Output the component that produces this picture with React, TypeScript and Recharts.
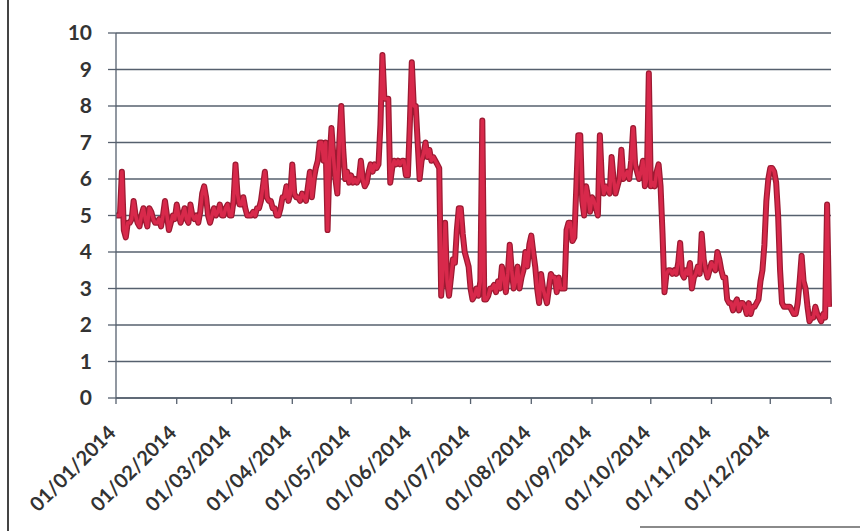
import React from "react";
import { LineChart, Line, XAxis, YAxis, CartesianGrid } from "recharts";

// Daily values, 2014, month by month
const jan = [5.0,5.0,5.0,6.2,4.6,4.4,4.8,4.8,4.9,5.4, 5.0,4.8,4.7,5.0,5.2,4.9,4.7,5.2,5.1,4.9, 4.8,4.8,4.9,4.7,5.0,5.4,5.0,4.6,4.8,5.0, 4.9];
const feb = [5.3,5.0,4.8,5.0,5.2,4.9,4.8,5.3,5.0,4.9, 5.0,4.8,5.1,5.6,5.8,5.5,5.0,4.8,5.0,5.2, 5.0,5.1,5.3,5.0,5.0,5.2,5.3,5.0];
const mar = [5.0,5.4,6.4,5.6,5.3,5.3,5.5,5.2,5.0,5.0, 5.0,5.1,5.0,5.2,5.2,5.4,5.8,6.2,5.5,5.4, 5.4,5.2,5.2,5.0,5.0,5.2,5.5,5.5,5.8,5.4, 5.6];
const apr = [6.4,5.6,5.5,5.5,5.4,5.6,5.5,5.4,5.8,6.2, 5.5,6.0,6.3,6.5,7.0,7.0,6.5,7.0,4.6,6.5, 7.4,6.6,6.0,5.6,7.0,8.0,6.8,6.0,6.2,5.9];
const may = [6.1,5.9,6.0,5.9,6.0,6.5,6.0,5.8,5.9,6.2, 6.4,6.2,6.4,6.3,6.4,7.5,9.4,8.2,8.2,8.2, 5.9,6.3,6.5,6.4,6.5,6.4,6.5,6.5,6.1,6.1, 7.5];
const jun = [9.2,8.0,8.0,7.0,6.0,6.5,6.7,7.0,6.6,6.8, 6.5,6.6,6.5,6.4,6.3,2.8,3.5,4.8,3.2,2.8, 3.3,3.8,3.7,4.6,5.2,5.2,4.5,4.0,3.8,3.6];
const jul = [3.0,2.7,2.8,3.0,2.8,3.2,7.6,2.7,2.7,2.8, 3.0,3.0,3.1,2.9,3.2,3.0,3.6,3.3,2.9,3.4, 4.2,3.5,3.0,3.2,3.6,3.0,3.3,3.5,4.0,3.6, 4.2];
const aug = [4.45,4.0,3.6,3.0,2.6,3.4,3.0,2.8,2.6,3.0, 3.4,3.3,3.3,2.9,3.3,3.0,3.0,3.0,4.6,4.8, 4.8,4.3,4.4,5.8,7.2,7.2,5.4,5.0,5.8,5.5, 5.1];
const sep = [5.5,5.4,5.2,5.0,7.2,6.0,5.6,5.8,5.7,5.6, 6.6,6.0,5.6,5.8,6.0,6.8,6.0,6.1,6.2,6.0, 6.5,7.4,6.4,6.2,6.0,6.2,6.5,5.8,6.0,8.9];
const oct = [5.8,5.9,5.8,6.2,6.4,5.8,4.5,2.9,3.4,3.5, 3.5,3.4,3.5,3.4,3.7,4.25,3.4,3.3,3.5,3.4, 3.7,3.0,3.3,3.4,3.6,3.4,4.5,3.8,3.5,3.3, 3.5];
const nov = [3.7,3.6,3.5,4.0,3.8,3.5,3.3,3.3,2.7,2.6, 2.6,2.4,2.6,2.7,2.4,2.6,2.6,2.5,2.3,2.6, 2.3,2.5,2.5,2.6,2.7,3.2,3.5,4.2,5.4,6.0];
const dec = [6.3,6.3,6.2,5.9,5.0,3.5,2.6,2.5,2.5,2.5, 2.5,2.4,2.3,2.3,2.6,3.2,3.9,3.2,3.0,2.5, 2.1,2.2,2.2,2.5,2.3,2.2,2.1,2.3,2.2,5.3, 2.5];

const months = [jan, feb, mar, apr, may, jun, jul, aug, sep, oct, nov, dec];
const tickLabels = [
  "01/01/2014", "01/02/2014", "01/03/2014", "01/04/2014", "01/05/2014", "01/06/2014",
  "01/07/2014", "01/08/2014", "01/09/2014", "01/10/2014", "01/11/2014", "01/12/2014",
];
const yTicks = [0, 1, 2, 3, 4, 5, 6, 7, 8, 9, 10];

const values: number[] = months.flat();
const data = values.map((v, i) => ({ day: i, value: v }));
const monthStarts: number[] = [];
{
  let acc = 0;
  for (const m of months) {
    monthStarts.push(acc);
    acc += m.length;
  }
  monthStarts.push(acc);
}

const FONT = "Lato, 'Open Sans', sans-serif";

const XTick = (props: any) => {
  const { x, y, payload } = props;
  const idx = monthStarts.indexOf(payload.value);
  const label = idx >= 0 && idx < tickLabels.length ? tickLabels[idx] : "";
  const ax = x + 1;
  const ay = y + 30;
  return (
    <text
      x={ax}
      y={ay}
      transform={`rotate(-45, ${ax}, ${ay})`}
      textAnchor="end"
      fontFamily={FONT}
      fontSize={20}
      fontWeight={700}
      fill="#333"
    >
      {label}
    </text>
  );
};

export default function App() {
  return (
    <div style={{ position: "absolute", left: 0, top: 0, width: 860, height: 531, background: "#fff" }}>
      <div style={{ position: "absolute", left: 7, top: 0, width: 2, height: 531, background: "#444" }} />
      <div style={{ position: "absolute", left: 640, top: 526, width: 220, height: 1.5, background: "#8a8a8a" }} />
      <LineChart
        width={860}
        height={531}
        data={data}
        margin={{ top: 33, right: 29, left: 0, bottom: 0 }}
      >
        <CartesianGrid vertical={false} stroke="#56606e" strokeWidth={1.3} />
        <XAxis
          dataKey="day"
          type="number"
          domain={[0, 365]}
          ticks={monthStarts}
          interval={0}
          height={133}
          tickSize={6}
          tickMargin={0}
          tick={<XTick />}
          stroke="#56606e"
          strokeWidth={1.3}
        />
        <YAxis
          type="number"
          domain={[0, 10]}
          ticks={yTicks}
          interval={0}
          width={116}
          tickSize={8}
          tickMargin={16}
          stroke="#56606e"
          strokeWidth={1.3}
          tick={{ fontFamily: FONT, fontSize: 21, fontWeight: 700, fill: "#333" }}
        />
        <Line
          type="linear"
          dataKey="value"
          stroke="#9c1a32"
          strokeWidth={6}
          dot={false}
          isAnimationActive={false}
          strokeLinejoin="round"
        />
        <Line
          type="linear"
          dataKey="value"
          stroke="#d8294b"
          strokeWidth={3.5}
          dot={false}
          isAnimationActive={false}
          strokeLinejoin="round"
        />
      </LineChart>
    </div>
  );
}
